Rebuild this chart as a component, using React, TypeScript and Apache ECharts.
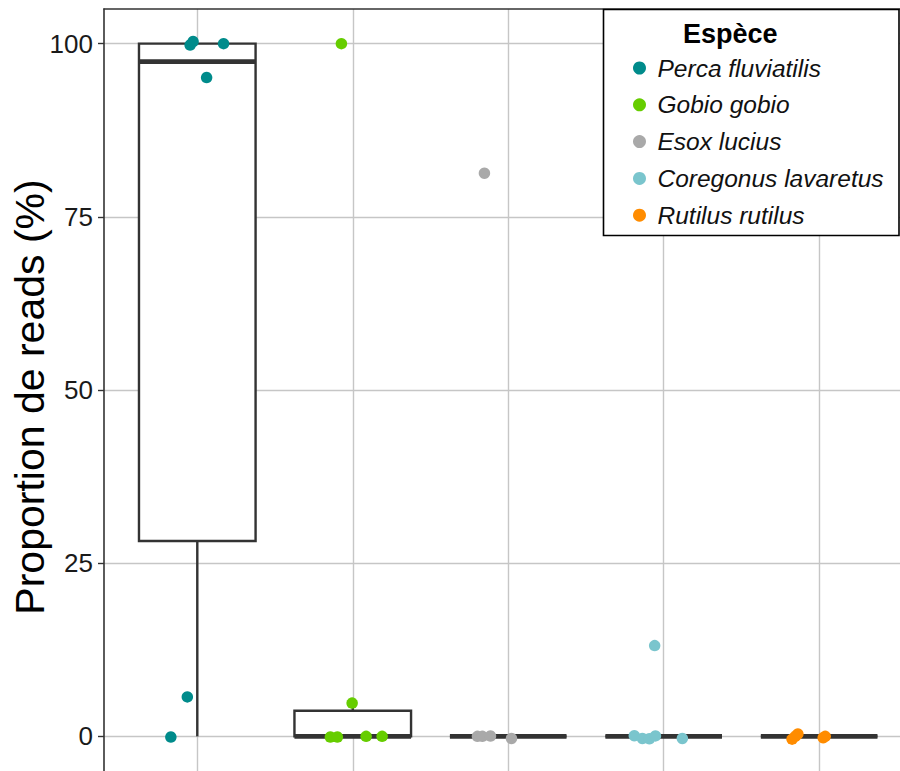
import React, { useEffect, useRef } from "react";
import * as echarts from "echarts";

// ---- data ----
const SPECIES = ["Perca fluviatilis", "Gobio gobio", "Esox lucius", "Coregonus lavaretus", "Rutilus rutilus"];
const COLORS = ["#008B8B", "#66CD00", "#A9A9A9", "#7AC5CD", "#FF8C00"];
const Y_TICKS = [0, 25, 50, 75, 100];
const CATEGORY_POS = [1, 2, 3, 4, 5];

// box stats: [position, lower whisker, Q1, median, Q3, upper whisker]
const BOX_STATS = [
  [1, 0, 28.2, 97.4, 100, 100],
  [2, 0, 0, 0, 3.7, 4.8],
  [3, 0, 0, 0, 0, 0],
  [4, 0, 0, 0, 0, 0],
  [5, 0, 0, 0, 0, 0],
];

// jittered points: [x (jittered position), proportion %]
const PERCA = [[0.954, 99.8], [0.973, 100.3], [1.169, 100.0], [1.06, 95.1], [0.936, 5.7], [0.83, -0.1]];
const GOBIO = [[1.927, 100], [1.996, 4.8], [1.856, -0.1], [1.901, -0.1], [2.086, 0], [2.189, 0]];
const ESOX = [[2.847, 81.3], [2.802, 0], [2.834, 0], [2.886, 0.05], [3.021, -0.3]];
const COREGONUS = [[3.942, 13.1], [3.811, 0.1], [3.863, -0.3], [3.908, -0.35], [3.947, 0.07], [4.12, -0.3]];
const RUTILUS = [[4.826, -0.4], [4.863, 0.35], [4.846, 0], [5.039, 0], [5.026, -0.2]];
const POINTS = [PERCA, GOBIO, ESOX, COREGONUS, RUTILUS];

const BOX_WIDTH = 0.75;
const FONT = '"Liberation Sans", Arial, sans-serif';
const DARK = "#333333";

export default function App() {
  const ref = useRef<HTMLDivElement>(null);
  useEffect(() => {
    if (!ref.current) return;
    const chart = echarts.init(ref.current, undefined, { renderer: "svg" });

    const boxSeries = {
      type: "custom",
      name: "box",
      z: 2,
      silent: true,
      encode: { x: 0, y: [1, 2, 3, 4, 5] },
      data: BOX_STATS,
      renderItem: (_params: any, api: any) => {
        const x = api.value(0);
        const lo = api.value(1);
        const q1 = api.value(2);
        const med = api.value(3);
        const q3 = api.value(4);
        const hi = api.value(5);
        const h = BOX_WIDTH / 2;
        const tl = api.coord([x - h, q3]);
        const br = api.coord([x + h, q1]);
        const mL = api.coord([x - h, med]);
        const mR = api.coord([x + h, med]);
        const pLo = api.coord([x, lo]);
        const pQ1 = api.coord([x, q1]);
        const pQ3 = api.coord([x, q3]);
        const pHi = api.coord([x, hi]);
        return {
          type: "group",
          children: [
            {
              type: "rect",
              shape: { x: tl[0], y: tl[1], width: br[0] - tl[0], height: br[1] - tl[1] },
              style: { fill: "#ffffff", stroke: DARK, lineWidth: 2.4 },
            },
            { type: "line", shape: { x1: pQ1[0], y1: pQ1[1], x2: pLo[0], y2: pLo[1] }, style: { stroke: DARK, lineWidth: 2.4 } },
            { type: "line", shape: { x1: pQ3[0], y1: pQ3[1], x2: pHi[0], y2: pHi[1] }, style: { stroke: DARK, lineWidth: 2.4 } },
            { type: "line", shape: { x1: mL[0], y1: mL[1], x2: mR[0], y2: mR[1] }, style: { stroke: DARK, lineWidth: 4.8, lineCap: "butt" } },
          ],
        };
      },
    };

    const gridSeries = {
      type: "scatter",
      name: "grid",
      z: 1,
      silent: true,
      data: [],
      markLine: {
        z: 0,
        silent: true,
        symbol: "none",
        label: { show: false },
        lineStyle: { color: "#c6c6c6", width: 1.4, type: "solid" },
        data: [
          ...Y_TICKS.map((v) => ({ yAxis: v })),
          ...CATEGORY_POS.map((v) => ({ xAxis: v })),
        ],
      },
    };

    const scatterSeries = SPECIES.map((name, i) => ({
      type: "scatter",
      name,
      z: 3,
      symbol: "circle",
      symbolSize: 11.5,
      itemStyle: { color: COLORS[i], opacity: 1 },
      data: POINTS[i],
    }));

    chart.setOption({
      animation: false,
      backgroundColor: "#ffffff",
      grid: { left: 104, right: 0, top: 9, bottom: 0, containLabel: false },
      xAxis: {
        type: "value",
        min: 0.4,
        max: 5.52,
        position: "top",
        axisLine: { show: true, onZero: false, lineStyle: { color: DARK, width: 1.6 } },
        axisTick: { show: false },
        axisLabel: { show: false },
        splitLine: { show: false },
      },
      yAxis: {
        type: "value",
        min: -5,
        max: 105,
        axisLine: { show: true, onZero: false, lineStyle: { color: DARK, width: 1.6 } },
        axisTick: { show: true, customValues: Y_TICKS, length: 6, lineStyle: { color: DARK, width: 1.4 } },
        axisLabel: { show: true, customValues: Y_TICKS, fontSize: 26, color: "#1a1a1a", margin: 11, fontFamily: FONT },
        splitLine: { show: false },
      },
      legend: {
        orient: "vertical",
        left: 633,
        top: 55.5,
        padding: 0,
        itemWidth: 26,
        itemHeight: 13,
        itemGap: 11.8,
        icon: "circle",
        selectedMode: false,
        data: SPECIES,
        textStyle: { fontSize: 24.5, fontStyle: "italic", color: "#111", fontFamily: FONT, lineHeight: 24, padding: [0, 0, 0, 0] },
        z: 6,
      },
      graphic: [
        {
          type: "rect",
          z: 4,
          shape: { x: 603.5, y: 9.5, width: 295.5, height: 226 },
          style: { fill: "#ffffff", stroke: "#000000", lineWidth: 1.6 },
        },
        {
          type: "text",
          z: 5,
          x: 683,
          y: 34,
          style: { text: "Espèce", font: `bold 27px ${FONT}`, fill: "#000", align: "left", verticalAlign: "middle" },
        },
        {
          type: "text",
          z: 5,
          x: 30,
          y: 397,
          rotation: Math.PI / 2,
          style: { text: "Proportion de reads (%)", font: `41px ${FONT}`, fill: "#000", align: "center", verticalAlign: "middle" },
        },
      ],
      series: [gridSeries, boxSeries, ...scatterSeries],
    });
    return () => chart.dispose();
  }, []);
  return <div ref={ref} style={{ position: "fixed", left: 0, top: 0, width: 900, height: 771 }} />;
}
